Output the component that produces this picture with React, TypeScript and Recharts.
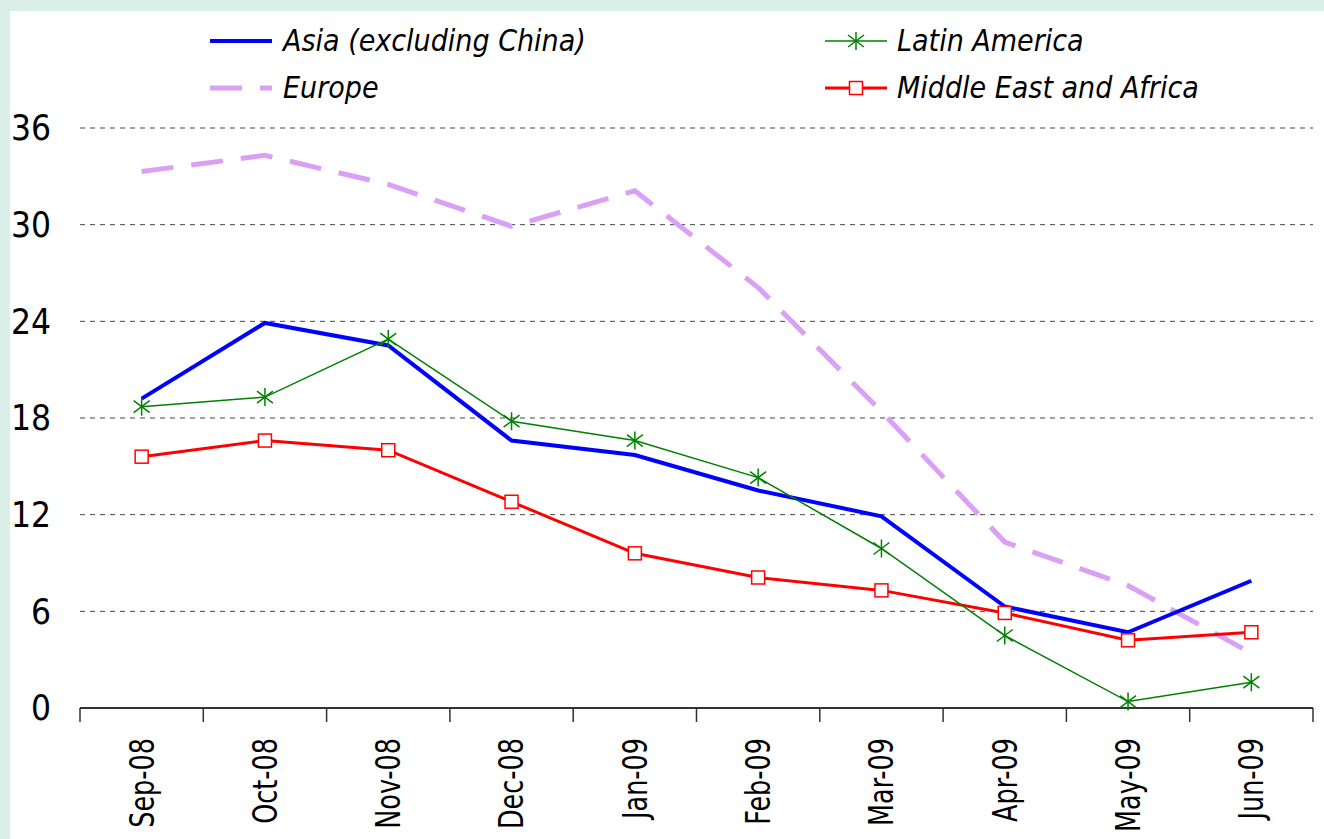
import React from 'react';
import { LineChart, Line, XAxis, YAxis, CartesianGrid } from 'recharts';

const months = ['Sep-08', 'Oct-08', 'Nov-08', 'Dec-08', 'Jan-09', 'Feb-09', 'Mar-09', 'Apr-09', 'May-09', 'Jun-09'];
const asia = [19.2, 23.9, 22.5, 16.6, 15.7, 13.5, 11.9, 6.3, 4.7, 7.9];
const europe = [33.3, 34.3, 32.5, 29.9, 32.1, 26.1, 18.4, 10.3, 7.6, 3.4];
const latam = [18.7, 19.3, 22.9, 17.8, 16.6, 14.3, 9.9, 4.5, 0.4, 1.6];
const mea = [15.6, 16.6, 16.0, 12.8, 9.6, 8.1, 7.3, 5.9, 4.2, 4.7];
const yTicks = [0, 6, 12, 18, 24, 30, 36];

const data = months.map((m, i) => ({
  month: m,
  asia: asia[i],
  europe: europe[i],
  latam: latam[i],
  mea: mea[i],
}));

const FONT = "'DejaVu Sans Condensed', 'DejaVu Sans', sans-serif";
const GREEN = '#008000';
const RED = '#ff0000';
const BLUE = '#0000ff';
const PURPLE = '#d9a0f5';
const LABEL_GAP = 30;

const StarDot = (props: any) => {
  const { cx, cy } = props;
  if (cx == null || cy == null) return null;
  return (
    <g stroke={GREEN} strokeWidth={1.5}>
      <line x1={cx} y1={cy - 9} x2={cx} y2={cy + 9} />
      <line x1={cx - 8} y1={cy - 6} x2={cx + 8} y2={cy + 6} />
      <line x1={cx - 8} y1={cy + 6} x2={cx + 8} y2={cy - 6} />
    </g>
  );
};

const SquareDot = (props: any) => {
  const { cx, cy } = props;
  if (cx == null || cy == null) return null;
  return <rect x={cx - 6.5} y={cy - 6.5} width={13} height={13} fill="#fff" stroke={RED} strokeWidth={1.5} />;
};

// label plus tick marks on the category boundaries (half a band either side)
const MonthTick = (props: any) => {
  const { x, y, payload, index, visibleTicksCount } = props;
  const half = payload.offset || 0;
  const axisY = y - LABEL_GAP;
  return (
    <g>
      <line x1={x - half} y1={axisY} x2={x - half} y2={axisY + 14} stroke="#333" strokeWidth={1.5} />
      {index === visibleTicksCount - 1 && (
        <line x1={x + half} y1={axisY} x2={x + half} y2={axisY + 14} stroke="#333" strokeWidth={1.5} />
      )}
      <text
        x={0}
        y={0}
        transform={`translate(${x}, ${y}) rotate(-90) scale(0.86, 1)`}
        textAnchor="end"
        dy="0.36em"
        fontSize={33}
        fontFamily={FONT}
        style={{ fontStretch: 'condensed' }}
        fill="#000"
      >
        {payload.value}
      </text>
    </g>
  );
};

const legendText: React.CSSProperties = {
  position: 'absolute',
  fontFamily: FONT,
  fontStretch: 'condensed',
  fontStyle: 'italic',
  fontSize: 30,
  lineHeight: '30px',
  color: '#000',
  whiteSpace: 'nowrap',
};

function LegendBox() {
  return (
    <div style={{ position: 'absolute', left: 0, top: 0, width: 1314, height: 110 }}>
      <svg width={1314} height={110} style={{ position: 'absolute', left: 0, top: 0 }}>
        <line x1={200} y1={30} x2={262} y2={30} stroke={BLUE} strokeWidth={4} />
        <line x1={200} y1={77} x2={262} y2={77} stroke={PURPLE} strokeWidth={5} strokeDasharray="32 18" />
        <line x1={815} y1={30} x2={877} y2={30} stroke={GREEN} strokeWidth={1.5} />
        <StarDot cx={846} cy={30} />
        <line x1={815} y1={77} x2={877} y2={77} stroke={RED} strokeWidth={3} />
        <SquareDot cx={846} cy={77} />
      </svg>
      <div style={{ ...legendText, left: 273, top: 15 }}>Asia (excluding China)</div>
      <div style={{ ...legendText, left: 273, top: 62 }}>Europe</div>
      <div style={{ ...legendText, left: 887, top: 15 }}>Latin America</div>
      <div style={{ ...legendText, left: 887, top: 62 }}>Middle East and Africa</div>
    </div>
  );
}

export default function App() {
  return (
    <div style={{ position: 'absolute', left: 0, top: 0, width: 1324, height: 839, background: '#d9efe7', overflow: 'hidden' }}>
      <div style={{ position: 'absolute', left: 10, top: 11, width: 1314, height: 828, background: '#fff' }}>
        <LineChart width={1314} height={828} data={data} margin={{ top: 117, right: 11, left: 0, bottom: 130 }}>
          <CartesianGrid horizontal vertical={false} stroke="#444" strokeDasharray="5 5" />
          <XAxis
            dataKey="month"
            scale="band"
            height={1}
            axisLine={{ stroke: '#333', strokeWidth: 2 }}
            tickLine={false}
            tickSize={0}
            tickMargin={LABEL_GAP}
            interval={0}
            tick={<MonthTick />}
          />
          <YAxis
            domain={[0, 36]}
            ticks={yTicks}
            width={70}
            axisLine={false}
            tickLine={false}
            tickSize={0}
            tickMargin={29}
            tick={{ fontSize: 35, fontFamily: FONT, fill: '#000', style: { fontStretch: 'condensed' } }}
          />
          <Line dataKey="europe" stroke={PURPLE} strokeWidth={5} strokeDasharray="32 18" dot={false} isAnimationActive={false} />
          <Line dataKey="mea" stroke={RED} strokeWidth={3} dot={<SquareDot />} isAnimationActive={false} />
          <Line dataKey="asia" stroke={BLUE} strokeWidth={4} dot={false} isAnimationActive={false} />
          <Line dataKey="latam" stroke={GREEN} strokeWidth={1.5} dot={<StarDot />} isAnimationActive={false} />
        </LineChart>
      </div>
      <div style={{ position: 'absolute', left: 10, top: 11 }}>
        <LegendBox />
      </div>
    </div>
  );
}
